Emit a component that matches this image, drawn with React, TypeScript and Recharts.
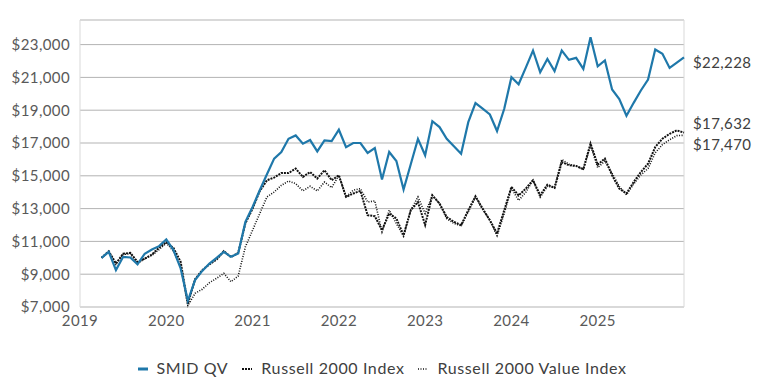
import { CartesianGrid, LabelList, Legend, Line, LineChart, ReferenceArea, XAxis, YAxis } from "recharts";

const BLUE = "#1F78AA";
const INK = "#111111";
const GRID = "#B3B3B3";
const BORDER = "#D9D9D9";
const TEXT = "#595959";
const FONT = "Lato, 'Open Sans', sans-serif";

// month-end values, first point is Mar 2019
const firstMonth = 2019 + 3 / 12;

const smid = [
  10000, 10365, 9250, 10060, 10020, 9600, 10250, 10510, 10710, 11120,
  10470, 9350, 7380, 8640, 9200, 9650, 10000, 10365, 10060, 10270,
  12190, 13100, 14120, 15090, 16050, 16450, 17260, 17460, 16960, 17180,
  16490, 17160, 17120, 17810, 16750, 17000, 17000, 16390, 16690, 14770,
  16450, 15900, 14160, 15700, 17250, 16250, 18330, 17970, 17260, 16800,
  16350, 18270, 19430, 19090, 18740, 17730, 19090, 21010, 20580, 21600,
  22640, 21320, 22130, 21380, 22640, 22070, 22190, 21520, 23450, 21680,
  22030, 20260, 19680, 18660, 19450, 20200, 20870, 22700, 22440, 21580,
  21900, 22228,
];

const r2000 = [
  10000, 10400, 9650, 10250, 10300, 9750, 9950, 10200, 10620, 10950,
  10600, 9750, 7180, 8690, 9250, 9600, 9900, 10400, 10050, 10300,
  12100, 13000, 14070, 14730, 14890, 15170, 15170, 15440, 14930, 15230,
  14830, 15340, 14730, 15030, 13710, 13920, 14080, 12600, 12540, 11680,
  12700, 12400, 11380, 12900, 13400, 12000, 13810, 13310, 12490, 12190,
  11990, 12900, 13750, 13000, 12290, 11480, 12900, 14320, 13800, 14220,
  14730, 13810, 14460, 14260, 15840, 15640, 15600, 15400, 16960, 15680,
  16050, 15030, 14220, 13920, 14620, 15230, 15740, 16750, 17260, 17560,
  17770, 17632,
];

const r2000v = [
  10000, 10350, 9600, 10200, 10250, 9650, 9950, 10150, 10500, 10900,
  10400, 9500, 7080, 7830, 8080, 8480, 8750, 9050, 8540, 8890,
  10670, 11680, 12700, 13710, 14010, 14420, 14680, 14520, 14080, 14360,
  14080, 14620, 14280, 15030, 13710, 14120, 14220, 13400, 13470, 11580,
  12900, 12090, 11320, 12900, 13710, 12700, 13810, 13310, 12390, 12100,
  11950, 12800, 13700, 12950, 12290, 11350, 12700, 14250, 13500, 14000,
  14730, 13700, 14350, 14300, 16000, 15700, 15600, 15400, 16850, 15500,
  15900, 15150, 14350, 13850, 14500, 15050, 15450, 16400, 16900, 17200,
  17450, 17470,
];

const yTicks = [7000, 9000, 11000, 13000, 15000, 17000, 19000, 21000, 23000];
const xTicks = [2019, 2020, 2021, 2022, 2023, 2024, 2025];

const data = smid.map((v, i) => ({
  t: firstMonth + i / 12,
  smid: v,
  r2000: r2000[i],
  r2000v: r2000v[i],
}));

const money = (v: number) => `$${v.toLocaleString("en-US")}`;

const endLabel = (dy: number) => (props: any) => {
  if (props.index !== data.length - 1) return null;
  return (
    <text
      x={props.x + 9}
      y={props.y + dy}
      dominantBaseline="central"
      fontSize={15}
      fontFamily={FONT}
      letterSpacing={0.4}
      fill="#404040"
    >
      {money(props.value)}
    </text>
  );
};

const legendItems = [
  { name: "SMID QV", color: BLUE, dash: "", width: 3 },
  { name: "Russell 2000 Index", color: INK, dash: "2 1", width: 2 },
  { name: "Russell 2000 Value Index", color: INK, dash: "1 1.5", width: 1.6 },
];

function ChartLegend() {
  return (
    <div
      style={{
        height: 45,
        boxSizing: "border-box",
        paddingTop: 17,
        display: "flex",
        justifyContent: "center",
        gap: 14,
        fontFamily: FONT,
        fontSize: 16,
        letterSpacing: 0.6,
        lineHeight: "18px",
        color: "#404040",
      }}
    >
      {legendItems.map((it) => (
        <span key={it.name} style={{ display: "flex", alignItems: "center", gap: 9 }}>
          <svg width={10} height={6}>
            <line x1={0} x2={10} y1={4} y2={4} stroke={it.color} strokeWidth={it.width} strokeDasharray={it.dash} />
          </svg>
          {it.name}
        </span>
      ))}
    </div>
  );
}

export default function App() {
  return (
    <div style={{ position: "absolute", left: 0, top: 0, background: "white" }}>
      <LineChart width={764} height={382} data={data} margin={{ top: 20, right: 80, left: 0, bottom: 0 }}>
        <ReferenceArea x1={2019} x2={2026} y1={7000} y2={24500} fill="none" stroke={BORDER} />
        <CartesianGrid vertical={false} stroke={GRID} />
        <XAxis
          dataKey="t"
          type="number"
          domain={[2019, 2026]}
          ticks={xTicks}
          height={30}
          tickLine={false}
          axisLine={{ stroke: BORDER }}
          tick={{ fontSize: 15, fill: TEXT, fontFamily: FONT, letterSpacing: 0.4 }}
        />
        <YAxis
          type="number"
          domain={[7000, 24500]}
          ticks={yTicks}
          width={80}
          tickLine={false}
          axisLine={false}
          tickMargin={4}
          tickFormatter={money}
          tick={{ fontSize: 15, fill: TEXT, fontFamily: FONT, letterSpacing: 0.4 }}
        />
        <Legend verticalAlign="bottom" wrapperStyle={{ left: 0, width: 764 }} content={() => <ChartLegend />} />
        <Line dataKey="r2000v" stroke={INK} strokeWidth={1.6} strokeDasharray="1 1.5" dot={false} activeDot={false} isAnimationActive={false}>
          <LabelList dataKey="r2000v" content={endLabel(9)} />
        </Line>
        <Line dataKey="r2000" stroke={INK} strokeWidth={2} strokeDasharray="2 1" dot={false} activeDot={false} isAnimationActive={false}>
          <LabelList dataKey="r2000" content={endLabel(-10)} />
        </Line>
        <Line dataKey="smid" stroke={BLUE} strokeWidth={2.2} dot={false} activeDot={false} isAnimationActive={false}>
          <LabelList dataKey="smid" content={endLabel(5)} />
        </Line>
      </LineChart>
    </div>
  );
}
